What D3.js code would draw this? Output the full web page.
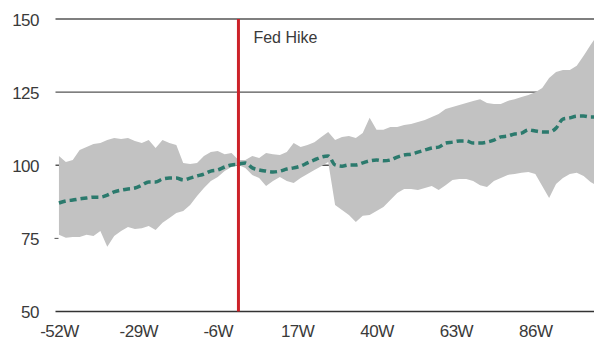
<!DOCTYPE html>
<html>
<head>
<meta charset="utf-8">
<script src="https://cdn.jsdelivr.net/npm/d3@7"></script>
<style>
  body { margin: 0; background: #fff; }
  text { font-family: "Liberation Sans", Arial, sans-serif; fill: #3a3a3a; }
</style>
</head>
<body>
<div id="chart"></div>
<script>
// weeks relative to the fed hike
var weeks = [-52,-50,-48,-46,-44,-42,-40,-38,-36,-34,-32,-30,-28,-26,-24,-22,-20,-18,-16,-14,-12,-10,-8,-6,-4,-2,
             0,2,4,6,8,10,12,14,16,18,20,22,24,26,28,30,32,34,36,38,40,42,44,46,48,50,
             52,54,56,58,60,62,64,66,68,70,72,74,76,78,80,82,84,86,88,90,92,94,96,98,100,102,103];

var upper = [103.2,101.1,101.8,105.2,106.2,107.3,107.6,108.6,109.3,109.0,109.3,108.3,107.6,108.6,105.9,108.6,107.6,106.9,100.8,100.4,100.8,103.2,104.5,104.9,103.8,104.2,
             101.8,101.8,103.2,102.5,104.2,103.8,103.5,104.5,107.6,106.2,106.9,107.9,109.7,111.4,108.6,109.7,110.0,109.3,111.0,116.2,112.1,112.1,113.1,113.1,113.8,114.1,
             114.8,115.5,116.5,117.5,119.2,119.9,120.6,121.3,122.0,122.6,121.3,120.9,120.9,122.0,122.6,123.3,124.0,125.0,126.4,129.8,131.9,132.6,132.6,134.0,137.4,141.1,142.8];

var lower = [76.2,75.2,75.5,75.5,76.2,75.8,77.5,72.1,75.8,77.5,78.9,78.2,78.5,79.2,77.9,80.3,82.0,83.7,84.4,86.4,89.5,92.2,94.6,96.0,98.0,99.4,
             100.1,99.1,96.7,95.6,92.9,94.6,96.0,94.6,93.9,95.6,97.0,98.4,99.7,101.1,86.4,84.7,83.0,80.6,82.7,83.0,84.4,85.7,88.1,90.5,91.9,91.9,
             91.5,92.2,92.9,91.5,93.2,95.0,95.3,95.3,94.6,93.2,92.6,94.6,95.6,96.7,97.0,97.4,97.7,97.0,92.9,88.8,93.6,95.6,97.0,97.4,96.3,94.3,93.6];

var median = [87.1,87.8,88.1,88.5,88.8,89.1,89.1,89.8,90.9,91.5,91.9,92.2,93.2,94.3,94.3,95.3,95.6,95.6,95.0,95.6,96.3,97.0,98.0,98.4,99.4,100.1,
              100.4,100.8,99.1,98.4,98.0,97.7,98.0,98.7,99.1,99.7,100.8,101.8,102.8,103.2,100.1,99.7,100.1,100.1,100.8,101.5,101.8,101.5,101.8,102.8,103.5,103.8,
              104.5,105.2,105.9,106.2,107.6,107.9,108.3,108.3,107.6,107.6,107.9,108.6,109.7,110.0,110.7,111.0,112.1,111.7,111.4,111.4,112.7,115.8,116.2,116.8,116.8,116.5,116.5];

var xTicks = [-52,-29,-6,17,40,63,86];
var yTicks = [50,75,100,125,150];
var gridLevels = [100,125,150];
var hikeWeek = 0;
var hikeLabel = "Fed Hike";

var w = 594, h = 342;

var svg = d3.select("#chart").append("svg")
            .attr("width", w)
            .attr("height", h);

var x = d3.scaleLinear().domain([-53, 103]).range([55.5, 594]);
var y = d3.scaleLinear().domain([50, 150]).range([311.5, 19]);

var rows = weeks.map(function(wk, i){
    return {wk: wk, hi: upper[i], lo: lower[i], mid: median[i]};
});

// grid lines (band is drawn on top of them)
svg.selectAll("line.grid")
   .data(gridLevels)
   .enter().append("line")
   .attr("class", "grid")
   .attr("x1", x(-53)).attr("x2", w)
   .attr("y1", function(d){ return y(d); })
   .attr("y2", function(d){ return y(d); })
   .attr("stroke", "#555")
   .attr("stroke-width", 1.3);

// small tick at 75
svg.append("line")
   .attr("x1", x(-53) - 1).attr("x2", x(-53) + 3)
   .attr("y1", y(75)).attr("y2", y(75))
   .attr("stroke", "#555");

// min-max band
var area = d3.area()
    .x(function(d){ return x(d.wk); })
    .y0(function(d){ return y(d.lo); })
    .y1(function(d){ return y(d.hi); });

svg.append("path")
   .datum(rows)
   .attr("d", area)
   .attr("fill", "#c2c2c2");

// median, dashed
var line = d3.line()
    .x(function(d){ return x(d.wk); })
    .y(function(d){ return y(d.mid); })
    .curve(d3.curveMonotoneX);

svg.append("path")
   .datum(rows)
   .attr("d", line)
   .attr("fill", "none")
   .attr("stroke", "#2b7a6d")
   .attr("stroke-width", 3.5)
   .attr("stroke-dasharray", "7,4");

// bottom axis line
svg.append("line")
   .attr("x1", x(-53)).attr("x2", w)
   .attr("y1", y(50)).attr("y2", y(50))
   .attr("stroke", "#333")
   .attr("stroke-width", 1.5);

// fed hike marker
svg.append("line")
   .attr("x1", x(hikeWeek)).attr("x2", x(hikeWeek))
   .attr("y1", y(150)).attr("y2", y(50))
   .attr("stroke", "#cc2229")
   .attr("stroke-width", 3);

svg.append("text")
   .attr("x", x(hikeWeek) + 15)
   .attr("y", 43)
   .attr("font-size", 16)
   .text(hikeLabel);

// y labels
var yAxis = d3.axisLeft(y).tickValues(yTicks).tickSize(0).tickPadding(0);
var gy = svg.append("g").attr("transform", "translate(39,0)").call(yAxis);
gy.select(".domain").remove();
gy.selectAll("text")
  .attr("font-size", 17)
  .attr("font-family", null)
  .attr("fill", null)
  .attr("dy", "0.36em")
  .style("letter-spacing", "-0.5px");

// x labels
var xAxis = d3.axisBottom(x).tickValues(xTicks).tickSize(0).tickPadding(0)
    .tickFormat(function(d){ return d + "W"; });
var gx = svg.append("g").attr("transform", "translate(0,325)").call(xAxis);
gx.select(".domain").remove();
gx.selectAll("text")
  .attr("font-size", 17)
  .attr("font-family", null)
  .attr("fill", null)
  .attr("dy", "0.72em")
  .style("letter-spacing", "-0.5px");
</script>
</body>
</html>
